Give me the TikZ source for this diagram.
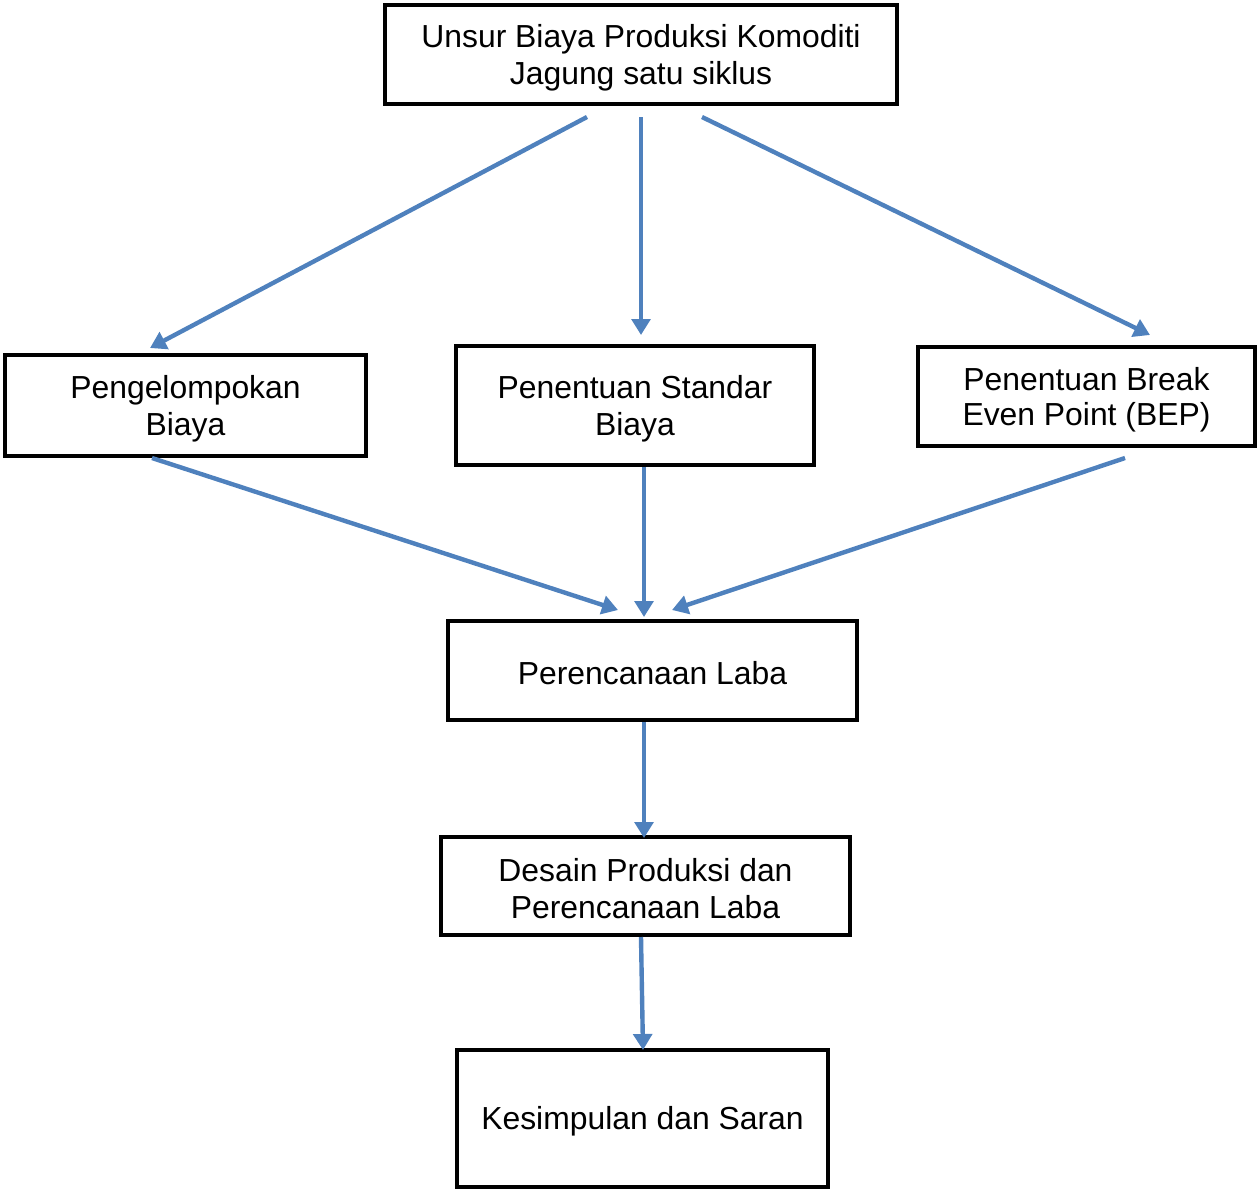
\documentclass[tikz,border=0pt]{standalone}
\usepackage{fontspec}
\setmainfont{Liberation Sans}
\usetikzlibrary{arrows.meta}
\definecolor{arrblue}{RGB}{79,129,189}
\tikzset{
  box/.style={draw=black, line width=3pt, inner sep=0pt},
  txt/.style={align=center, inner sep=0pt, yshift=-2.25pt,
    font=\fontsize{23.9}{27.75}\selectfont},
  conn/.style={draw=arrblue, line width=3.3pt,
    -{Triangle[length=12pt,width=14pt]}}
}
\begin{document}
\begin{tikzpicture}[x=0.75pt,y=-0.75pt]
\useasboundingbox (0,0) rectangle (1257,1189);
\node[box, minimum width=384pt, minimum height=74.25pt,
  label={[txt]center:Unsur Biaya Produksi Komoditi\\Jagung satu siklus}] (top) at (641,54.5) {};
\node[box, minimum width=270.75pt, minimum height=75.75pt,
  label={[txt]center:Pengelompokan\\Biaya}] (peng) at (185.5,405.5) {};
\node[box, minimum width=268.5pt, minimum height=89.25pt,
  label={[txt]center:Penentuan Standar\\Biaya}] (std) at (635,405.5) {};
\node[box, minimum width=252.75pt, minimum height=74.25pt,
  label={[txt,font=\fontsize{23.9}{26.25}\selectfont]center:Penentuan Break\\Even Point (BEP)}] (bep) at (1086.5,396.5) {};
\node[box, minimum width=306.75pt, minimum height=74.25pt,
  label={[txt]center:Perencanaan Laba}] (laba) at (652.5,670.5) {};
\node[box, minimum width=306.75pt, minimum height=73.5pt,
  label={[txt]center:Desain Produksi dan\\Perencanaan Laba}] (desain) at (645.5,886) {};
\node[box, minimum width=278.25pt, minimum height=102.75pt,
  label={[txt]center:Kesimpulan dan Saran}] (kes) at (642.5,1118.5) {};

\draw[conn] ([shift={(-54,11)}]top.south) -- ([shift={(-35.5,-5)}]peng.north);
\draw[conn] ([shift={(0,11)}]top.south) -- ([shift={(6,-9)}]std.north);
\draw[conn] ([shift={(61,11)}]top.south) -- ([shift={(63.5,-10)}]bep.north);
\draw[conn] ([shift={(-33.5,0)}]peng.south) -- ([shift={(-34.5,-9)}]laba.north);
\draw[conn] ([shift={(9,0)}]std.south) -- ([shift={(-8.5,-2)}]laba.north);
\draw[conn] ([shift={(38.5,10)}]bep.south) -- ([shift={(19.5,-9)}]laba.north);
\draw[conn] ([shift={(-8.5,0)}]laba.south) -- ([shift={(-1.5,3)}]desain.north);
\draw[conn] ([shift={(-4.5,0)}]desain.south) -- ([shift={(0.5,2)}]kes.north);
\end{tikzpicture}
\end{document}
